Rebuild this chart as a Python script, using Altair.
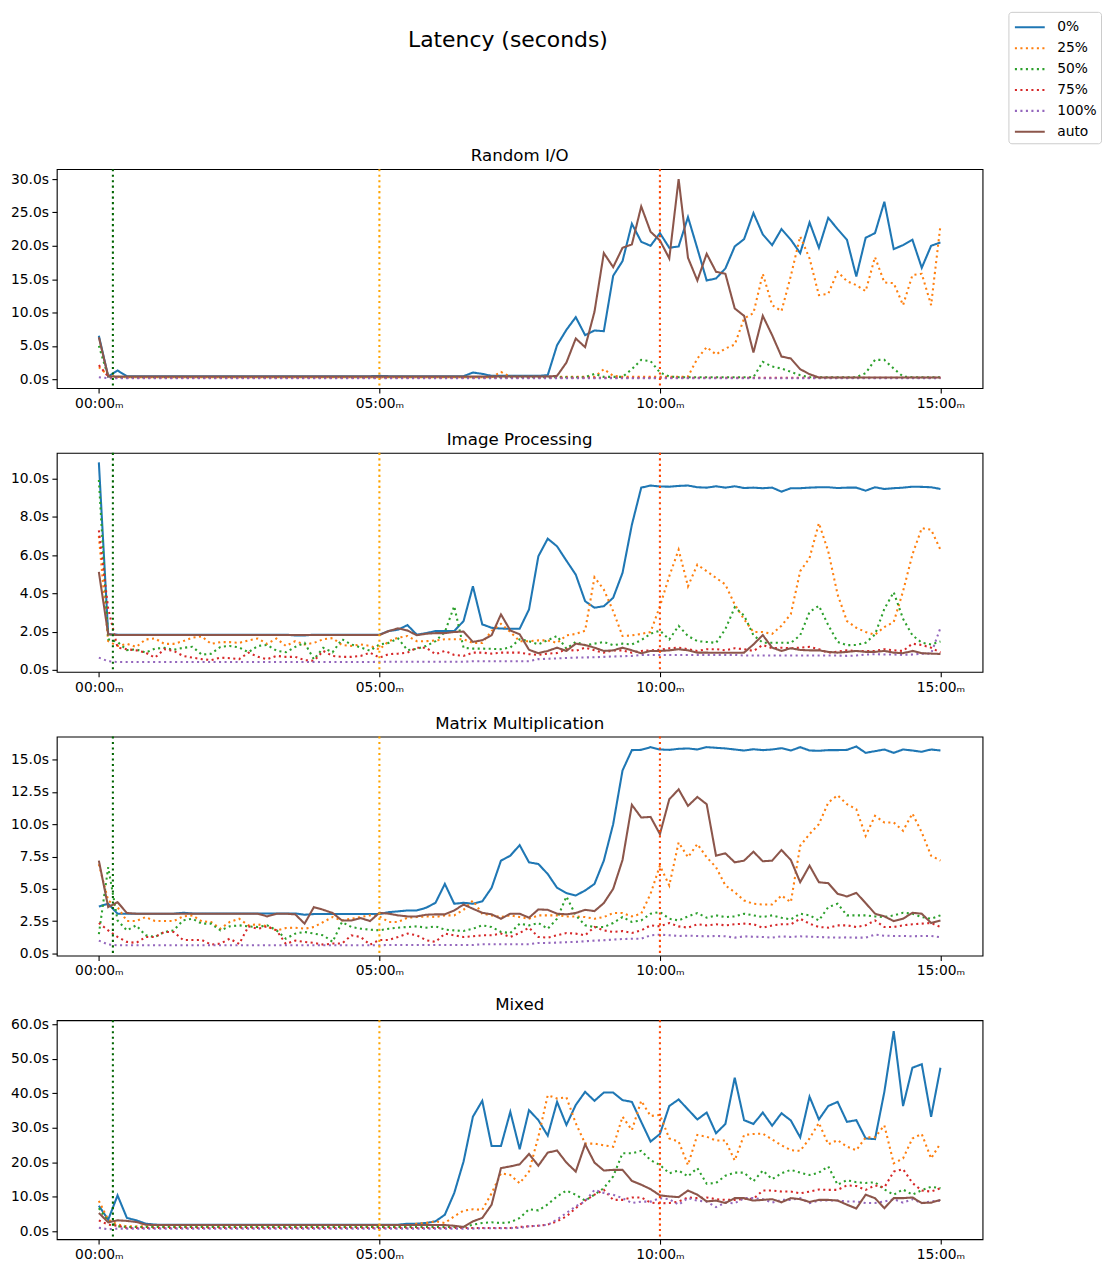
import altair as alt
import pandas as pd

# ---------------- data ----------------
TIME_S = list(range(0, 901, 10))          # sample times in seconds (10 s step)
SERIES = ["0%", "25%", "50%", "75%", "100%", "auto"]
COLORS = ["#1f77b4", "#ff7f0e", "#2ca02c", "#d62728", "#9467bd", "#8c564b"]
X_TICKS = [0, 300, 600, 900]
VLINE_T = [15, 300, 600]
VLINE_COLORS = ["darkgreen", "orange", "orangered"]

# Random I/O
RIO_P0 = ([6.5, 0.4, 1.3, 0.45] + [0.45] * 26 + [0.5] + [0.45] * 9 + [1.0, 0.8] + [0.5] * 6 +
          [0.6, 5.1, 7.4, 9.3, 6.6, 7.3, 7.2, 15.5, 17.7, 23.3, 20.6, 20.0, 21.9, 19.7, 19.9, 24.3,
           19.6, 14.8, 15.1, 16.6, 19.9, 21.0, 24.9, 21.7, 20.1, 22.5, 20.9, 18.9, 23.5, 19.7, 24.2,
           22.5, 20.9, 15.4, 21.2, 21.9, 26.6, 19.5, 20.1, 20.9, 16.7, 20.0, 20.5])
RIO_P25 = ([1.8, 0.6, 0.35] + [0.3] * 40 + [1.1] + [0.35] * 10 + [1.5] + [0.5] + [0.35] * 7 +
           [0.4, 3.1, 4.8, 3.7, 4.6, 5.2, 9.1, 9.9, 15.8, 11.1, 10.2, 15.5, 21.4, 18.1, 12.6, 12.8,
            16.1, 14.7, 14.1, 13.2, 18.3, 14.5, 14.4, 11.1, 15.6, 15.8, 11.1, 23.1])
RIO_P50 = ([5.0, 0.4] + [0.3] * 51 + [0.8] + [0.35] * 3 + [1.5, 2.9, 2.7, 1.0, 0.4] + [0.3] * 9 +
           [2.6, 1.9, 1.6, 1.1, 0.6] + [0.3] * 6 + [0.9, 2.9, 2.9, 1.6, 0.4] + [0.3] * 4)
RIO_P75 = [2.1, 0.4] + [0.2] * 89
RIO_P100 = [0.3, 0.15] + [0.15] * 89
RIO_AUTO = ([6.3, 0.4] + [0.4] * 47 +
            [0.5, 2.5, 6.1, 4.8, 10.1, 18.9, 16.8, 19.7, 20.2, 25.9, 22.1, 20.8, 18.1, 30.0, 18.2,
             14.8, 18.8, 16.1, 15.8, 10.6, 9.5, 4.0, 9.5, 6.6, 3.4, 3.1, 1.5, 0.75] + [0.25] * 14)

# Image Processing
IMG_P0 = ([10.85, 1.86] + [1.84] * 19 + [1.8, 1.8] + [1.84] * 8 +
          [2.03, 2.1, 2.34, 1.84, 1.92, 2.03, 2.03, 2.03, 2.55, 4.37,
           2.38, 2.2, 2.16, 2.15, 2.15, 3.16, 5.94, 6.86, 6.46, 5.71,
           4.98, 3.59, 3.25, 3.33, 3.77, 5.07, 7.59, 9.53, 9.64, 9.59,
           9.58, 9.62, 9.64, 9.55, 9.53, 9.60, 9.53, 9.60, 9.51, 9.53,
           9.50, 9.53, 9.32, 9.50, 9.50, 9.53, 9.55, 9.55, 9.51, 9.53,
           9.53, 9.37, 9.55, 9.46, 9.50, 9.53, 9.58, 9.57, 9.55, 9.46])
IMG_P25 = [7.0, 1.5, 1.25, 1.36, 1.2, 1.59, 1.64, 1.36, 1.36, 1.5,
           1.68, 1.75, 1.36, 1.45, 1.45, 1.41, 1.54, 1.64, 1.36, 1.64,
           1.25, 1.5, 1.33, 1.41, 1.6, 1.66, 1.3, 1.25, 1.33, 1.25,
           1.07, 1.5, 1.68, 1.77, 1.5, 1.5, 1.54, 1.6, 1.6, 1.6,
           1.41, 1.41, 2.03, 2.41, 1.98, 1.5, 1.5, 1.54, 1.54, 1.41,
           1.8, 1.88, 2.05, 4.84, 4.2, 3.07, 1.77, 1.8, 1.88, 1.98,
           3.33, 4.9, 6.28, 4.37, 5.5, 5.16, 4.81, 4.46, 3.42, 2.64,
           1.98, 1.98, 1.88, 2.31, 2.92, 5.16, 5.85, 7.67, 6.2, 3.94,
           2.55, 2.2, 1.98, 1.84, 2.24, 2.5, 4.11, 6.03, 7.41, 7.33, 6.28]
IMG_P50 = [9.93, 1.6, 1.46, 1.03, 1.07, 0.9, 1.11, 1.15, 1.05, 1.15,
           1.21, 0.8, 0.84, 1.2, 1.25, 1.17, 0.92, 1.25, 1.3, 1.0,
           0.92, 1.2, 1.41, 0.55, 1.15, 0.92, 1.6, 1.33, 1.17, 1.0,
           1.33, 1.41, 1.64, 1.03, 1.1, 1.25, 1.5, 1.98, 3.33, 1.15,
           1.11, 1.11, 1.1, 1.08, 1.17, 1.6, 1.5, 1.33, 1.55, 1.77,
           1.11, 1.46, 1.29, 1.37, 1.46, 1.29, 1.37, 1.33, 1.55, 1.89,
           2.05, 1.59, 2.3, 1.77, 1.5, 1.46, 1.41, 2.13, 3.27, 2.84,
           1.81, 1.42, 1.42, 1.42, 1.41, 1.81, 3.03, 3.35, 2.34, 1.46,
           1.29, 1.3, 1.42, 1.85, 3.19, 4.06, 2.67, 1.81, 1.42, 1.33, 1.48]
IMG_P75 = [7.3, 3.2, 1.16, 1.08, 1.02, 0.9, 0.64, 1.08, 0.99, 0.73,
           0.64, 0.56, 0.51, 0.64, 0.61, 0.56, 0.9, 0.68, 0.56, 0.73,
           0.68, 0.68, 0.51, 0.47, 0.99, 0.73, 0.68, 0.68, 0.73, 0.9,
           0.64, 0.82, 0.85, 0.9, 1.16, 1.16, 0.82, 0.99, 0.78, 0.73,
           0.9, 0.9, 0.85, 0.9, 0.9, 0.9, 0.82, 0.78, 0.85, 0.88,
           1.08, 0.99, 1.16, 1.02, 0.9, 1.02, 1.02, 0.9, 0.99, 1.02,
           1.05, 1.13, 1.16, 1.08, 0.99, 1.08, 1.08, 1.02, 1.13, 1.08,
           0.99, 1.3, 1.13, 1.16, 1.13, 1.16, 1.2, 1.08, 0.9, 0.95,
           1.02, 0.99, 0.99, 0.99, 1.08, 1.02, 0.99, 1.37, 1.3, 1.16, 0.9]
IMG_P100 = ([0.64, 0.45] + [0.41] * 28 + [0.42] * 10 + [0.45] * 7 +
            [0.56, 0.58, 0.6, 0.62, 0.64, 0.65, 0.66, 0.68, 0.7, 0.71, 0.73, 0.78] +
            [0.78] * 10 + [0.75] * 10 +
            [0.75, 0.73, 0.75, 0.8, 0.82, 0.8, 0.8, 0.78, 0.8, 0.85] + [0.85, 2.2])
IMG_AUTO = ([5.12, 1.86] + [1.82] * 29 +
            [2.03, 2.17, 2.06, 1.81, 1.89, 1.92, 1.92, 1.98, 2.0,
             1.46, 1.55, 1.81, 2.9, 2.06, 1.86, 1.05, 0.87, 0.99, 1.16,
             0.99, 1.37, 1.3, 1.16, 0.99, 1.02, 1.16, 1.02, 0.87, 0.99,
             0.99, 1.02, 1.08, 1.02, 0.9, 0.9, 0.89, 0.89, 0.89, 0.9,
             1.33, 1.82, 1.16, 0.99, 1.13, 1.04, 1.02, 1.02, 0.94, 0.9,
             0.94, 0.99, 0.94, 0.94, 0.99, 0.9, 0.87, 0.99, 0.87, 0.85, 0.83])

# Matrix Multiplication
MAT_P0 = ([3.64, 3.85, 3.08] + [3.08] * 6 + [3.15] + [3.1] * 12 + [3.0] + [3.05] * 8 +
          [3.2, 3.26, 3.33, 3.33, 3.54, 3.92, 5.38, 3.85, 3.92, 3.85,
           4.03, 5.08, 7.18, 7.56, 8.38, 7.05, 6.92, 6.15, 5.08, 4.67,
           4.49, 4.87, 5.38, 7.18, 10.0, 14.15, 15.72, 15.74, 15.95, 15.77,
           15.74, 15.82, 15.85, 15.77, 15.95, 15.9, 15.85, 15.77, 15.69, 15.79,
           15.72, 15.77, 15.87, 15.69, 15.95, 15.69, 15.67, 15.72, 15.72, 15.74,
           16.0, 15.51, 15.64, 15.77, 15.51, 15.77, 15.69, 15.59, 15.77, 15.69])
MAT_P25 = [6.9, 4.1, 3.59, 2.51, 2.51, 2.82, 2.51, 2.51, 2.51, 2.87,
           2.95, 2.49, 2.44, 1.92, 2.44, 2.69, 2.18, 2.26, 2.1, 1.79,
           1.97, 2.0, 1.92, 2.05, 2.44, 2.82, 2.56, 2.69, 2.82, 2.95,
           2.87, 2.44, 2.44, 2.77, 2.82, 2.87, 2.82, 2.95, 2.95, 3.38,
           4.1, 3.08, 2.95, 2.82, 2.95, 2.82, 2.69, 2.95, 2.95, 2.95,
           2.87, 2.87, 2.82, 2.69, 2.82, 3.13, 3.13, 2.87, 3.08, 4.62,
           6.8, 5.26, 8.59, 7.44, 8.46, 7.44, 6.67, 5.26, 4.74, 4.1,
           3.85, 3.79, 3.79, 4.49, 3.97, 8.33, 9.23, 10.0, 11.67, 12.23,
           11.54, 11.15, 9.1, 10.64, 10.13, 10.13, 9.49, 10.82, 9.36, 7.56, 7.18]
MAT_P50 = [1.5, 6.67, 2.56, 1.79, 2.18, 1.41, 1.28, 1.67, 1.79, 2.56,
           2.69, 2.31, 2.31, 1.79, 2.1, 2.18, 2.1, 2.05, 2.18, 1.79,
           1.15, 1.54, 1.67, 1.54, 1.41, 0.9, 2.44, 2.05, 1.92, 1.85,
           1.79, 1.92, 2.0, 2.05, 2.1, 2.0, 2.1, 1.85, 1.79, 1.74,
           1.92, 2.18, 2.05, 1.67, 1.59, 2.31, 2.18, 2.36, 1.92, 2.69,
           4.41, 2.95, 2.18, 2.05, 2.05, 2.36, 2.82, 2.44, 2.56, 3.08,
           3.21, 2.69, 2.56, 2.87, 3.13, 2.77, 2.95, 2.82, 2.87, 3.08,
           2.95, 2.82, 2.95, 2.77, 2.64, 3.08, 2.95, 2.56, 3.59, 3.85,
           2.95, 2.95, 2.95, 2.87, 2.82, 2.95, 3.15, 3.08, 2.82, 2.69, 2.95]
MAT_P75 = [2.36, 1.79, 1.28, 0.9, 0.82, 1.28, 1.28, 1.67, 1.67, 1.05,
           1.05, 1.05, 0.69, 0.77, 1.15, 0.74, 2.1, 1.92, 2.1, 1.79,
           0.74, 1.0, 0.9, 0.82, 0.69, 0.77, 0.77, 1.41, 1.28, 0.69,
           1.05, 1.05, 1.28, 1.54, 1.41, 1.03, 0.9, 1.54, 1.41, 1.28,
           1.33, 1.41, 1.41, 1.54, 1.28, 1.59, 2.0, 1.28, 1.23, 1.41,
           1.59, 1.54, 1.41, 2.05, 1.79, 1.67, 1.74, 1.59, 1.79, 2.18,
           2.1, 2.36, 2.1, 2.0, 2.26, 2.18, 2.26, 2.18, 2.26, 2.31,
           2.26, 2.0, 2.18, 2.26, 2.26, 2.69, 2.31, 2.05, 2.0, 2.18,
           2.18, 2.05, 2.18, 2.56, 2.05, 2.05, 2.18, 2.26, 2.31, 2.36, 2.05]
MAT_P100 = ([1.0, 0.7] + [0.64] * 29 + [0.66] * 10 + [0.72] * 6 +
            [0.82, 0.82, 0.85, 0.88, 0.9, 0.95, 1.0, 1.03, 1.08, 1.12, 1.15, 1.15, 1.41, 1.46, 1.41] +
            [1.36, 1.38, 1.36, 1.33, 1.36, 1.33, 1.23, 1.33] +
            [1.3, 1.28, 1.23, 1.33, 1.28, 1.33, 1.3, 1.28, 1.25, 1.23, 1.25] +
            [1.23, 1.23, 1.46, 1.38, 1.36, 1.36, 1.33, 1.36, 1.36, 1.26])
MAT_AUTO = ([7.18, 3.59, 3.97, 3.13] + [3.08] * 14 + [2.87, 3.08, 3.08, 3.03] +
            [2.31, 3.59, 3.38, 3.13, 2.56, 2.56, 2.74, 2.51, 3.15, 3.08,
             2.95, 2.87, 2.87, 3.0, 3.03, 3.03, 3.33, 3.79, 3.46, 3.15,
             3.03, 2.69, 3.08, 3.08, 2.77, 3.41, 3.38, 3.08, 3.03, 3.13,
             3.38, 3.28, 3.9, 5.0, 7.23, 11.49, 10.51, 10.56, 9.23, 11.92,
             12.69, 11.41, 12.1, 11.54, 7.56, 7.74, 7.05, 7.18, 7.87, 7.13,
             7.18, 8.0, 7.23, 5.51, 6.79, 5.51, 5.44, 4.62, 4.41, 4.69,
             3.9, 3.08, 2.87, 2.51, 2.69, 3.15, 3.08, 2.36, 2.56])

# Mixed
MIX_P0 = ([7.4, 3.36, 10.4, 3.85, 3.17, 2.21, 1.92] + [1.9] * 26 +
          [2.2, 2.2, 2.4, 2.88, 4.8, 11.05, 20.2,
           33.2, 37.8, 24.7, 24.7, 34.6, 23.8, 35.1, 32.2, 27.7, 37.5,
           30.8, 36.6, 40.4, 37.8, 40.2, 40.2, 38.0, 37.5, 31.7, 26.0,
           28.2, 36.3, 38.2, 35.3, 32.4, 34.4, 28.4, 31.1, 44.5, 32.2,
           31.1, 34.4, 30.6, 34.2, 32.1, 27.2, 39.0, 32.4, 36.3, 37.5,
           31.7, 32.2, 26.9, 26.7, 40.4, 58.0, 36.3, 47.4, 48.4, 33.2, 47.4])
MIX_P25 = ([8.8, 3.36, 1.92] + [1.44] * 31 +
           [2.2, 2.4, 2.88, 2.4, 4.33, 6.0,
            6.4, 6.2, 11.0, 16.8, 16.3, 13.9, 17.3, 27.4, 39.4, 38.5,
            38.8, 31.3, 25.4, 25.4, 24.9, 24.5, 33.2, 29.3, 37.8, 33.4,
            33.7, 26.9, 26.0, 19.2, 27.9, 27.4, 26.3, 26.3, 20.5, 27.9,
            28.2, 28.3, 26.6, 24.9, 23.5, 23.3, 26.9, 31.4, 25.2, 26.4,
            24.5, 23.5, 27.2, 27.2, 30.7, 19.7, 21.1, 26.9, 28.2, 21.1, 25.5])
MIX_P50 = ([6.7, 2.88, 1.44] + [1.25] * 37 +
           [1.92, 2.4, 2.6, 2.4, 2.6, 3.85, 6.4, 6.05, 7.8, 10.1,
            11.8, 10.6, 8.9, 10.6, 12.5, 15.9, 22.6, 22.6, 23.3, 20.6,
            19.2, 16.8, 17.6, 15.9, 18.3, 13.8, 14.0, 16.1, 17.0, 17.0,
            14.5, 17.6, 15.1, 16.8, 17.8, 17.0, 16.3, 17.0, 18.8, 13.5,
            14.8, 14.2, 14.0, 14.2, 12.1, 10.6, 12.1, 10.6, 11.9, 12.9, 12.5])
MIX_P75 = ([3.17, 1.92, 1.6] + [0.96] * 42 +
           [1.25, 1.44, 1.6, 1.92, 2.88,
            4.3, 6.7, 8.9, 10.6, 12.0, 9.1, 9.1, 9.8, 9.8, 8.3,
            8.1, 8.2, 8.6, 9.8, 9.6, 9.8, 9.3, 9.1, 9.1, 9.4,
            9.4, 11.8, 11.8, 11.5, 11.5, 11.0, 11.5, 12.1, 12.0, 12.0,
            13.3, 13.1, 12.0, 13.3, 12.7, 17.3, 18.0, 14.0, 11.8, 11.5, 12.5])
MIX_P100 = ([1.0, 0.6] + [0.77] * 39 + [0.9] * 4 +
            [1.0, 1.44, 1.6, 1.9, 3.4,
             5.3, 7.2, 8.7, 12.0, 11.1, 10.6, 9.6, 8.2, 8.6, 8.6,
             9.6, 9.3, 7.7, 9.6, 8.9, 8.6, 7.0, 8.3, 8.1, 9.6,
             9.6, 9.3, 8.3, 9.1, 9.1, 9.6, 8.17, 8.9, 8.9, 8.9,
             8.65, 8.65, 8.17, 8.17, 8.65, 9.3, 8.3, 9.3, 8.17, 8.65, 8.9])
MIX_AUTO = ([5.3, 2.6, 3.17, 3.0, 2.7, 1.92] + [1.8] * 32 + [1.6, 1.25] +
            [2.88, 3.85, 7.7, 18.3, 18.8, 19.4, 22.4, 19.0, 22.8, 23.4,
             19.9, 17.3, 25.2, 19.9, 17.6, 17.8, 17.8, 14.6, 13.5, 12.2,
             10.4, 10.1, 9.9, 11.8, 10.6, 8.65, 8.9, 8.2, 9.6, 9.6,
             8.9, 9.1, 9.3, 8.4, 9.6, 9.3, 8.5, 9.1, 9.1, 8.9,
             7.7, 6.6, 10.6, 9.6, 6.7, 9.6, 9.6, 9.8, 8.2, 8.3, 9.1])

PANEL_TITLES = ["Random I/O", "Image Processing", "Matrix Multiplication", "Mixed"]
PANEL_SERIES = [
    [RIO_P0, RIO_P25, RIO_P50, RIO_P75, RIO_P100, RIO_AUTO],
    [IMG_P0, IMG_P25, IMG_P50, IMG_P75, IMG_P100, IMG_AUTO],
    [MAT_P0, MAT_P25, MAT_P50, MAT_P75, MAT_P100, MAT_AUTO],
    [MIX_P0, MIX_P25, MIX_P50, MIX_P75, MIX_P100, MIX_AUTO],
]
Y_TICKS = [
    [0, 5, 10, 15, 20, 25, 30],
    [0, 2, 4, 6, 8, 10],
    [0, 2.5, 5, 7.5, 10, 12.5, 15],
    [0, 10, 20, 30, 40, 50, 60],
]
Y_DOMAINS = [[-1.34, 31.49], [-0.104, 11.35], [-0.154, 16.77], [-2.31, 61.15]]

# ---------------- chart ----------------
FONT = "DejaVu Sans"
LW = 2.08                      # 1.5 pt at 100 dpi
DOT = [2.08, 3.44]             # matplotlib ':' pattern scaled by line width
DASHES = [[1, 0], DOT, DOT, DOT, DOT, [1, 0]]
X_LABEL = ("format(floor(datum.value / 60), '02d') + ':' + "
           "format(datum.value % 60, '02d') + '\u2098'")

LEGEND = alt.Legend(
    title=None, orient="none", legendX=956, legendY=-158,
    symbolType="M-1.5,0L1.5,0", symbolSize=400, symbolStrokeWidth=LW, symbolOffset=6,
    labelFont=FONT, labelFontSize=13.9, labelColor="black", labelOffset=16,
    strokeColor="#cccccc", fillColor="white", padding=4, cornerRadius=3,
    rowPadding=2,
)


def make_panel(title, lists, ydom, yticks, with_legend):
    rows = []
    for s, vals in zip(SERIES, lists):
        assert len(vals) == len(TIME_S), (title, s, len(vals))
        for t, v in zip(TIME_S, vals):
            rows.append({"t": t, "v": v, "series": s})
    df = pd.DataFrame(rows)
    leg = LEGEND if with_legend else None
    lines = alt.Chart(df).mark_line(strokeWidth=LW, clip=True).encode(
        x=alt.X("t:Q", scale=alt.Scale(domain=[-45, 945], nice=False, zero=False),
                axis=alt.Axis(values=X_TICKS, labelExpr=X_LABEL, title=None)),
        y=alt.Y("v:Q", scale=alt.Scale(domain=ydom, nice=False, zero=False),
                axis=alt.Axis(values=yticks, labelExpr="format(datum.value, '.1f') + 's'",
                              title=None)),
        color=alt.Color("series:N", scale=alt.Scale(domain=SERIES, range=COLORS), legend=leg),
        strokeDash=alt.StrokeDash("series:N", scale=alt.Scale(domain=SERIES, range=DASHES),
                                  legend=leg),
    )
    layers = [lines]
    for tv, c in zip(VLINE_T, VLINE_COLORS):
        layers.append(
            alt.Chart(pd.DataFrame({"t": [tv]})).mark_rule(
                color=c, strokeWidth=LW, strokeDash=DOT).encode(x="t:Q"))
    return alt.layer(*layers).properties(
        width=930, height=220,
        title=alt.TitleParams(title, font=FONT, fontSize=16.7, fontWeight="normal",
                              color="black", offset=3.3),
    )


panels = [make_panel(PANEL_TITLES[i], PANEL_SERIES[i], Y_DOMAINS[i], Y_TICKS[i], i == 0)
          for i in range(4)]

chart = alt.vconcat(*panels, spacing=65, bounds="flush").properties(
    title=alt.TitleParams("Latency (seconds)", font=FONT, fontSize=22, fontWeight="normal",
                          color="black", anchor="middle", offset=-41, dx=-48),
    padding={"left": 1, "top": 0, "right": 0, "bottom": 0},
).resolve_scale(color="shared", strokeDash="shared").configure(
    font=FONT
).configure_axis(
    labelFont=FONT, labelFontSize=13.9, labelColor="black", tickColor="black",
    tickSize=4.9, tickWidth=1.1, labelPadding=3.5, domain=False, grid=False,
).configure_view(stroke="black", strokeWidth=1.1)

chart.save("out.html", embed_options={"renderer": "svg", "actions": False})
